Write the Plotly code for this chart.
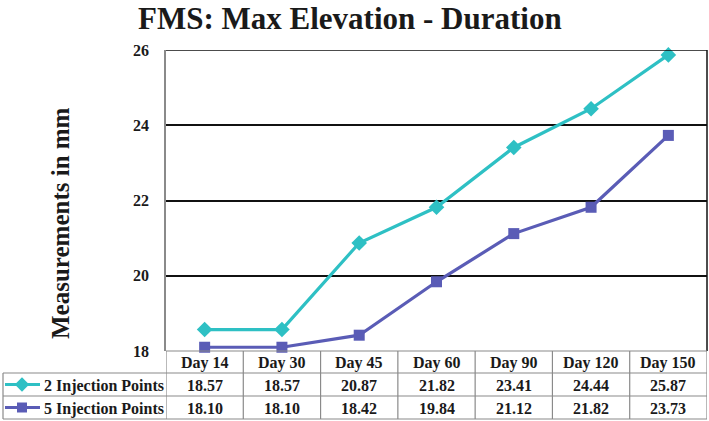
import plotly.graph_objects as go

categories = ["Day 14", "Day 30", "Day 45", "Day 60", "Day 90", "Day 120", "Day 150"]
series_names = ["2 Injection Points", "5 Injection Points"]
two_points = [18.57, 18.57, 20.87, 21.82, 23.41, 24.44, 25.87]
five_points = [18.10, 18.10, 18.42, 19.84, 21.12, 21.82, 23.73]
y_ticks = [18, 20, 22, 24, 26]

W, H = 709, 421
CYAN = "#2EC0C4"
PURPLE = "#5A5CB6"
GRID = "#111111"
BORDER = "#8A8A8A"
FONT = "Liberation Serif"


def px(p):
    return p / W


def py(p):
    return 1 - p / H


PL, PR, PT, PB = 166, 707, 50, 351
ROWS = [351, 373, 396, 419]
LAB_L = 3

fig = go.Figure()
series = [(series_names[0], two_points, CYAN, "diamond", 12),
          (series_names[1], five_points, PURPLE, "square", 11)]
for name, vals, col, sym, sz in series:
    fig.add_trace(go.Scatter(
        x=categories, y=vals, mode="lines+markers", name=name,
        line=dict(color=col, width=3.2),
        marker=dict(symbol=sym, size=sz, color=col),
        showlegend=False, cliponaxis=False,
    ))

# legend glyphs in the table label column (own axes in pixel units)
row_centers = [(ROWS[1] + ROWS[2]) / 2, (ROWS[2] + ROWS[3]) / 2]
for (name, vals, col, sym, sz), yc in zip(series, row_centers):
    fig.add_trace(go.Scatter(
        x=[5, 40], y=[yc, yc], mode="lines", line=dict(color=col, width=3.2),
        xaxis="x2", yaxis="y2", showlegend=False, hoverinfo="skip"))
    fig.add_trace(go.Scatter(
        x=[22], y=[yc], mode="markers", marker=dict(symbol=sym, size=sz - 1, color=col),
        xaxis="x2", yaxis="y2", showlegend=False, hoverinfo="skip"))

shapes = []
# top gridline (26) and right border of plot
shapes.append(dict(type="line", xref="paper", yref="y", x0=px(PL), x1=px(PR),
                   y0=y_ticks[-1], y1=y_ticks[-1], line=dict(color=GRID, width=1.5)))
shapes.append(dict(type="line", xref="paper", yref="paper", x0=px(PR), x1=px(PR),
                   y0=py(PB), y1=py(PT), line=dict(color=GRID, width=1.5)))
# table horizontal lines
shapes.append(dict(type="line", xref="paper", yref="paper", x0=px(PL), x1=px(PR),
                   y0=py(ROWS[0]), y1=py(ROWS[0]), line=dict(color=BORDER, width=1.2)))
for r in ROWS[1:]:
    shapes.append(dict(type="line", xref="paper", yref="paper", x0=px(LAB_L), x1=px(PR),
                       y0=py(r), y1=py(r), line=dict(color=BORDER, width=1.2)))
# table vertical lines on category boundaries
for i in range(len(categories) + 1):
    shapes.append(dict(type="line", xref="x", yref="paper", x0=i - 0.5, x1=i - 0.5,
                       y0=py(ROWS[0]), y1=py(ROWS[3]), line=dict(color=BORDER, width=1.2)))
shapes.append(dict(type="line", xref="paper", yref="paper", x0=px(LAB_L), x1=px(LAB_L),
                   y0=py(ROWS[1]), y1=py(ROWS[3]), line=dict(color=BORDER, width=1.2)))

annotations = []
cell_font = dict(family=FONT, size=16, color="#1a1a1a", weight="bold")
hdr_y = (ROWS[0] + ROWS[1]) / 2
for i, c in enumerate(categories):
    annotations.append(dict(x=i, y=py(hdr_y + 1), xref="x", yref="paper", text=c,
                            showarrow=False, font=cell_font, yanchor="middle"))
for vals, yc in zip([two_points, five_points], row_centers):
    for i, v in enumerate(vals):
        annotations.append(dict(x=i, y=py(yc + 1), xref="x", yref="paper", text=f"{v:.2f}",
                                showarrow=False, font=cell_font, yanchor="middle"))
for name, yc in zip(series_names, row_centers):
    annotations.append(dict(x=px(42), y=py(yc + 1), xref="paper", yref="paper", text=name,
                            showarrow=False, font=cell_font, xanchor="left", yanchor="middle"))
# title
annotations.append(dict(x=px(350), y=1, xref="paper", yref="paper",
                        text="FMS: Max Elevation - Duration", showarrow=False,
                        font=dict(family=FONT, size=31, color="#1a1a1a", weight="bold"),
                        xanchor="center", yanchor="top", borderpad=0))
# y-axis title
annotations.append(dict(x=px(60), y=py(223), xref="paper", yref="paper",
                        text="Measurements in mm", showarrow=False, textangle=-90,
                        font=dict(family=FONT, size=25, color="#1a1a1a", weight="bold"),
                        xanchor="center", yanchor="middle"))

fig.update_layout(
    width=W, height=H,
    margin=dict(l=0, r=0, t=0, b=0, autoexpand=False),
    paper_bgcolor="white", plot_bgcolor="white",
    xaxis=dict(domain=[px(PL), px(PR)], range=[-0.5, len(categories) - 0.5],
               type="category", categoryarray=categories, automargin=False,
               showgrid=False, showticklabels=False, showline=False, zeroline=False, ticks=""),
    yaxis=dict(domain=[py(PB), py(PT)], range=[18, 26], tickvals=y_ticks, automargin=False,
               showgrid=True, gridcolor=GRID, gridwidth=1.5,
               showline=True, linecolor=BORDER, linewidth=1.5, zeroline=False,
               ticks="", ticklabelstandoff=12,
               tickfont=dict(family=FONT, size=16, color="#1a1a1a", weight="bold")),
    xaxis2=dict(domain=[0, px(PL)], range=[0, PL], visible=False, fixedrange=True,
                automargin=False, anchor="y2"),
    yaxis2=dict(domain=[0, py(ROWS[0])], range=[H, ROWS[0]], visible=False, fixedrange=True,
                anchor="x2", automargin=False),
    shapes=shapes,
    annotations=annotations,
)
fig.write_html("out.html", config={"displayModeBar": False},
               post_script="document.body.style.margin='0';document.body.style.overflow='hidden';")
